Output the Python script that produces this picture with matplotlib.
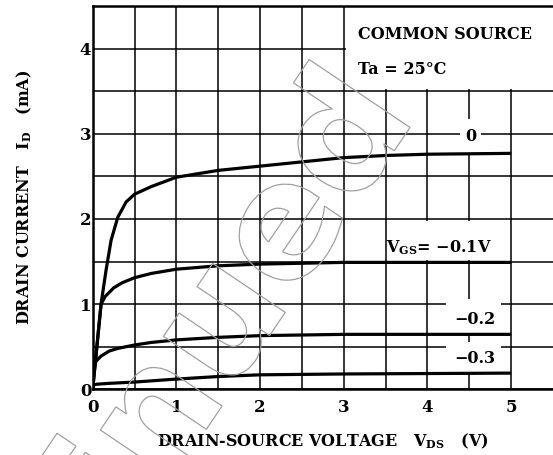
import numpy as np
import matplotlib
matplotlib.use("Agg")
import matplotlib.pyplot as plt
from matplotlib.patches import Rectangle, PathPatch
from matplotlib.textpath import TextPath
from matplotlib.font_manager import FontProperties
from matplotlib.transforms import Affine2D

plt.rcParams['font.family'] = ['DejaVu Serif']
plt.rcParams['font.weight'] = 'bold'
plt.rcParams['mathtext.fontset'] = 'dejavuserif'

# drain current curves (V_DS in V, I_D in mA)
vds_0 = [0, 0.05, 0.1, 0.16, 0.22, 0.3, 0.4, 0.5, 0.7, 1.0, 1.5, 2.0, 2.5, 3.0, 3.5, 4.0, 4.5, 5.0]
id_0 = [0, 0.5, 1.0, 1.4, 1.75, 2.02, 2.2, 2.29, 2.38, 2.49, 2.57, 2.62, 2.67, 2.72, 2.745, 2.76, 2.765, 2.77]

vds_1 = [0, 0.05, 0.1, 0.15, 0.25, 0.35, 0.5, 0.7, 1.0, 1.5, 2.0, 2.5, 3.0, 4.0, 5.0]
id_1 = [0, 0.5, 1.0, 1.09, 1.19, 1.25, 1.31, 1.36, 1.41, 1.45, 1.47, 1.48, 1.49, 1.49, 1.49]

vds_2 = [0, 0.01, 0.04, 0.1, 0.2, 0.3, 0.5, 0.7, 1.0, 1.5, 2.0, 3.0, 4.0, 5.0]
id_2 = [0, 0.25, 0.33, 0.39, 0.45, 0.48, 0.52, 0.55, 0.58, 0.61, 0.63, 0.645, 0.645, 0.645]

vds_3 = [0, 0.01, 0.05, 0.2, 0.5, 1.0, 1.5, 2.0, 3.0, 4.0, 5.0]
id_3 = [0, 0.05, 0.06, 0.07, 0.085, 0.12, 0.15, 0.17, 0.18, 0.185, 0.19]

curve_labels = ['0', 'V$_{\\mathbf{GS}}$= \u22120.1V', '\u22120.2', '\u22120.3']

fig = plt.figure(figsize=(5.53, 4.55), dpi=100)
ax = fig.add_axes([0.1676, 0.1444, 0.8324, 0.8424])

ax.set_xlim(0, 5.5)
ax.set_ylim(0, 4.5)
ax.set_xticks(np.arange(0, 6, 1))
ax.set_yticks(np.arange(0, 5, 1))
ax.set_xticks(np.arange(0.5, 5.5, 1), minor=True)
ax.set_yticks(np.arange(0.5, 4.5, 1), minor=True)
ax.tick_params(which='both', length=0)
ax.tick_params(axis='x', pad=7, labelsize=12)
ax.tick_params(axis='y', pad=1, labelsize=12)
for t in ax.get_xticklabels() + ax.get_yticklabels():
    t.set_fontweight('bold')
ax.set_axisbelow(True)
ax.grid(which='both', color='black', lw=1.1)

for s in ['left', 'bottom', 'top']:
    ax.spines[s].set_linewidth(1.8)
ax.spines['right'].set_visible(False)

# white areas behind the labels
for (x0, y0, x1, y1) in [(3.03, 3.53, 5.6, 4.5), (4.39, 2.76, 4.64, 3.17),
                         (3.52, 1.52, 4.98, 1.98), (4.22, 0.65, 4.88, 1.06),
                         (4.22, 0.19, 4.88, 0.55)]:
    ax.add_patch(Rectangle((x0, y0), x1 - x0, y1 - y0, facecolor='white',
                           lw=0, zorder=1))

for vx, iy in [(vds_0, id_0), (vds_1, id_1), (vds_2, id_2), (vds_3, id_3)]:
    ax.plot(vx, iy, color='black', lw=2.3, zorder=3, solid_capstyle='butt')

ax.text(4.52, 2.97, curve_labels[0], ha='center', va='center', fontsize=11.5, zorder=4)
ax.text(4.13, 1.66, curve_labels[1], ha='center', va='center', fontsize=11.5, zorder=4)
ax.text(4.57, 0.815, curve_labels[2], ha='center', va='center', fontsize=11.5, zorder=4)
ax.text(4.57, 0.36, curve_labels[3], ha='center', va='center', fontsize=11.5, zorder=4)
ax.text(3.17, 4.16, 'COMMON SOURCE', ha='left', va='center', fontsize=11.5, zorder=4)
ax.text(3.17, 3.76, 'Ta = 25\u00b0C', ha='left', va='center', fontsize=11.5, zorder=4)

ax.set_xlabel('DRAIN-SOURCE VOLTAGE   V$_{\\mathbf{DS}}$   (V)', fontsize=11.5,
              fontweight='bold', labelpad=11)
ax.set_ylabel('DRAIN CURRENT   I$_{\\mathbf{D}}$   (mA)', fontsize=11.5,
              fontweight='bold', labelpad=33)

# faint outlined watermark
wm = TextPath((0, 0), 'Discontinued', size=160,
              prop=FontProperties(family='DejaVu Sans', weight='bold'))
ext = wm.get_extents()
tr = (Affine2D().translate(-(ext.x1 - 0.36 * 160), -0.36 * 160)
      .rotate_deg(56).translate(330, 455 - 143))
fig.add_artist(PathPatch(wm, transform=tr, facecolor='none', edgecolor='#a0a0a0',
                         lw=0.9, zorder=5))

fig.savefig('out.png', dpi=100)
